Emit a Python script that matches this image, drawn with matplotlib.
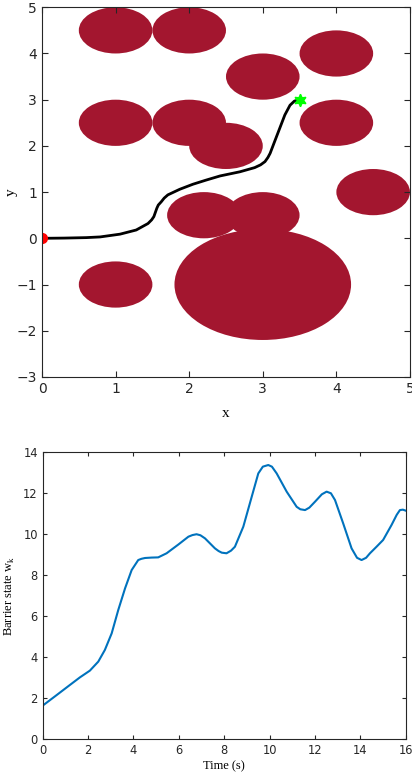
import numpy as np
import matplotlib
matplotlib.use('Agg')
import matplotlib.pyplot as plt
from matplotlib.patches import Circle

# obstaculos (centro x, centro y, radio)
obs_x = [1, 2, 3, 4, 1, 2, 2.5, 4, 4.5, 2.2, 3, 3, 1]
obs_y = [4.5, 4.5, 3.5, 4, 2.5, 2.5, 2, 2.5, 1, 0.5, 0.5, -1, -1]
obs_r = [0.5, 0.5, 0.5, 0.5, 0.5, 0.5, 0.5, 0.5, 0.5, 0.5, 0.5, 1.2, 0.5]

# trayectoria
path_x = [0, 0.3, 0.6, 0.79, 1.06, 1.28, 1.44, 1.49, 1.52, 1.54, 1.56, 1.58, 1.62, 1.66,
          1.71, 1.87, 2.05, 2.23, 2.42, 2.69, 2.89, 2.97, 3.03, 3.07, 3.10, 3.16, 3.23,
          3.30, 3.37, 3.43, 3.5]
path_y = [0, 0.005, 0.015, 0.03, 0.09, 0.18, 0.32, 0.40, 0.47, 0.56, 0.65, 0.72, 0.79, 0.87,
          0.94, 1.06, 1.17, 1.26, 1.35, 1.44, 1.53, 1.59, 1.66, 1.75, 1.84, 2.09, 2.38,
          2.67, 2.88, 2.97, 3.0]

# estado barrera
t = [0, 0.62, 1.2, 1.64, 2.08, 2.45, 2.74, 3.04, 3.33, 3.63, 3.92, 4.21, 4.35, 4.51, 4.8,
     5.09, 5.46, 5.98, 6.42, 6.6, 6.78, 6.95, 7.15, 7.59, 7.75, 7.89, 8.1, 8.3, 8.47,
     8.84, 9.21, 9.5, 9.7, 9.94, 10.1, 10.31, 10.75, 11.19, 11.35, 11.56, 11.75, 12.0,
     12.3, 12.51, 12.7, 12.88, 13.24, 13.61, 13.85, 14.05, 14.25, 14.42, 14.71, 15.0,
     15.37, 15.6, 15.74, 15.87, 16.0]
w = [1.63, 2.15, 2.64, 3.01, 3.34, 3.78, 4.35, 5.16, 6.3, 7.36, 8.25, 8.74, 8.8, 8.84, 8.86,
     8.87, 9.07, 9.5, 9.88, 9.96, 10.0, 9.95, 9.8, 9.31, 9.18, 9.1, 9.07, 9.2, 9.39,
     10.37, 11.83, 12.97, 13.3, 13.38, 13.3, 12.97, 12.08, 11.34, 11.22, 11.18, 11.3, 11.59,
     11.95, 12.08, 12.0, 11.67, 10.53, 9.31, 8.85, 8.74, 8.85, 9.07, 9.39, 9.72,
     10.45, 10.95, 11.18, 11.2, 11.15]

obs_color = '#a3162f'
serif = 'Liberation Serif'

fig = plt.figure(figsize=(4.12, 7.74), dpi=100)

# grafico de arriba
ax1 = fig.add_axes([0.102, 0.513, 0.893, 0.4776])
for cx, cy, r in zip(obs_x, obs_y, obs_r):
    ax1.add_patch(Circle((cx, cy), r, facecolor=obs_color, edgecolor='none'))
ax1.plot(path_x, path_y, color='black', lw=2, solid_capstyle='round', solid_joinstyle='round')
ax1.plot(path_x[0], path_y[0], 'o', color='red', ms=7)
ax1.plot(path_x[-1], path_y[-1], marker=(6, 1, 0), color='#00ff00', ms=9, ls='none')
ax1.set_xlim(0, 5)
ax1.set_ylim(-3, 5)
ax1.set_xticks(range(0, 6))
ax1.set_yticks(range(-3, 6))
ax1.tick_params(direction='in', top=True, right=True, labelsize=10, colors='#262626', length=4)
ax1.set_xlabel('x', family=serif, fontsize=11)
ax1.set_ylabel('y', family=serif, fontsize=11)
ax1.xaxis.set_label_coords(0.5, -0.082)
ax1.yaxis.set_label_coords(-0.065, 0.5)
for s in ax1.spines.values():
    s.set_color('#262626')

# grafico de abajo
ax2 = fig.add_axes([0.1036, 0.0452, 0.8814, 0.3704])
ax2.plot(t, w, color='#0072BD', lw=1.5, solid_joinstyle='round')
ax2.set_xlim(0, 16)
ax2.set_ylim(0, 14)
ax2.set_xticks(range(0, 17, 2))
ax2.set_yticks(range(0, 15, 2))
ax2.tick_params(direction='in', top=True, right=True, labelsize=8.3, colors='#262626', length=3)
ax2.set_xlabel('Time (s)', family=serif, fontsize=9)
ax2.set_ylabel(r'Barrier state w$_\mathregular{k}$', family=serif, fontsize=9)
ax2.xaxis.set_label_coords(0.5, -0.074)
ax2.yaxis.set_label_coords(-0.072, 0.5)
for s in ax2.spines.values():
    s.set_color('#262626')

plt.savefig('out.png', dpi=100)
